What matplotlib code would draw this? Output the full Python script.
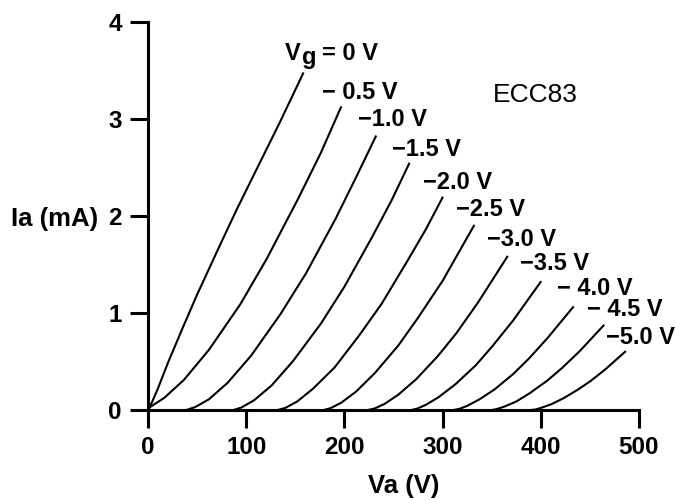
import matplotlib.pyplot as plt

# Letra tipo Helvetica
plt.rcParams["font.family"] = "Liberation Sans"
plt.rcParams["font.weight"] = "bold"
plt.rcParams["font.size"] = 17

# Curvas de placa del ECC83: Va (V) contra Ia (mA) para cada tension de rejilla
va_g00 = [0, 4, 10, 20, 35, 50, 71, 90, 110, 134, 158]
ia_g00 = [0, 0.08, 0.22, 0.48, 0.84, 1.19, 1.65, 2.06, 2.47, 2.96, 3.47]
va_g05 = [0, 2, 16.5, 36.5, 62, 94, 121, 153, 176, 196.5]
ia_g05 = [0, 0.03, 0.125, 0.31, 0.62, 1.09, 1.56, 2.18, 2.65, 3.12]
va_g10 = [39, 48, 62, 81, 105, 135, 161, 191, 212, 232]
ia_g10 = [0, 0.03, 0.11, 0.28, 0.56, 0.99, 1.41, 1.97, 2.40, 2.82]
va_g15 = [87, 95, 108, 126, 148, 176, 200, 228, 248, 266]
ia_g15 = [0, 0.025, 0.10, 0.254, 0.508, 0.889, 1.27, 1.778, 2.159, 2.54]
va_g20 = [132, 140, 152, 168, 190, 215, 238, 264, 283, 300]
ia_g20 = [0, 0.022, 0.088, 0.219, 0.438, 0.767, 1.095, 1.533, 1.862, 2.19]
va_g25 = [179, 186, 197, 212, 231, 255, 275, 300, 316, 332]
ia_g25 = [0, 0.019, 0.076, 0.19, 0.38, 0.665, 0.95, 1.33, 1.615, 1.90]
va_g30 = [224, 231, 241, 255, 273, 295, 314, 336, 351, 366]
ia_g30 = [0, 0.016, 0.063, 0.158, 0.316, 0.553, 0.79, 1.106, 1.343, 1.58]
va_g35 = [268, 274, 283, 296, 313, 334, 351, 372, 386, 400]
ia_g35 = [0, 0.013, 0.053, 0.132, 0.264, 0.462, 0.66, 0.924, 1.122, 1.32]
va_g40 = [311, 317, 325, 337, 353, 372, 388, 407, 420, 433]
ia_g40 = [0, 0.011, 0.042, 0.106, 0.212, 0.371, 0.53, 0.742, 0.901, 1.06]
va_g45 = [350, 355, 363, 375, 389, 407, 422, 440, 452, 464]
ia_g45 = [0, 0.009, 0.035, 0.087, 0.174, 0.305, 0.435, 0.609, 0.740, 0.87]
va_g50 = [390, 395, 401, 411, 423, 438, 451, 466, 476, 486]
ia_g50 = [0, 0.006, 0.024, 0.06, 0.12, 0.21, 0.30, 0.42, 0.51, 0.60]

va_curves = [va_g00, va_g05, va_g10, va_g15, va_g20, va_g25,
             va_g30, va_g35, va_g40, va_g45, va_g50]
ia_curves = [ia_g00, ia_g05, ia_g10, ia_g15, ia_g20, ia_g25,
             ia_g30, ia_g35, ia_g40, ia_g45, ia_g50]

# Etiquetas de cada curva (la de 0 V se dibuja aparte por el subindice)
grid_labels = ["\u2212 0.5 V", "\u22121.0 V", "\u22121.5 V", "\u22122.0 V", "\u22122.5 V",
               "\u22123.0 V", "\u22123.5 V", "\u2212 4.0 V", "\u2212 4.5 V", "\u22125.0 V"]
label_x = [177, 214, 248.5, 280, 313.6, 345, 379, 416.5, 447, 467]
label_y = [3.27, 2.99, 2.69, 2.35, 2.07, 1.76, 1.51, 1.25, 1.04, 0.75]

xticks = [0, 100, 200, 300, 400, 500]
yticks = [0, 1, 2, 3, 4]

fig = plt.figure(figsize=(6.76, 5.0), dpi=100)
ax = fig.add_axes([0.219, 0.18, 0.726, 0.776])

for va, ia in zip(va_curves, ia_curves):
    ax.plot(va, ia, color="black", lw=1.5)

for txt, x, y in zip(grid_labels, label_x, label_y):
    ax.text(x, y, txt, ha="left", va="center", fontsize=17)

# Vg = 0 V con la g baja
ax.annotate("V", (139.5, 3.61), va="baseline", ha="left")
ax.annotate("g", (139.5, 3.61), xytext=(12, -3), textcoords="offset points",
            va="baseline", ha="left")
ax.annotate("= 0 V", (139.5, 3.61), xytext=(26.5, 0), textcoords="offset points",
            va="baseline", ha="left")

ax.text(351, 3.25, "ECC83", ha="left", va="center", fontweight="normal", fontsize=19)

# Ejes
ax.set_xlim(0, 500)
ax.set_ylim(0, 4)
ax.set_xticks(xticks)
ax.set_yticks(yticks)
ax.spines[["top", "right"]].set_visible(False)
ax.spines[["left", "bottom"]].set_linewidth(2.2)
ax.tick_params(length=13, width=2.2, pad=6, labelsize=17.5)

ax.set_xlabel("Va (V)", fontweight="bold", fontsize=18.5)
ax.xaxis.set_label_coords(0.52, -0.165)
ax.set_ylabel("Ia (mA)", rotation=0, ha="right", va="center", fontweight="bold", fontsize=18.5)
ax.yaxis.set_label_coords(-0.102, 0.492)

fig.savefig("out.png", dpi=100)
